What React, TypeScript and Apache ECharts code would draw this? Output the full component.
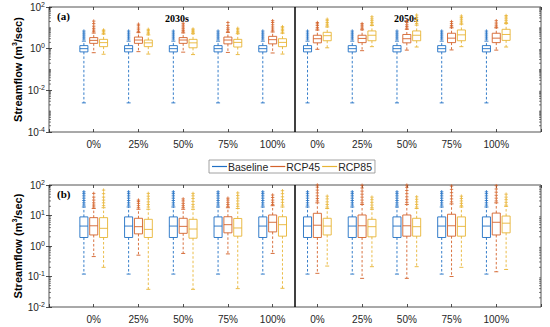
import React, { useEffect, useRef } from 'react';
import * as echarts from 'echarts';

const groupLabels = ['0%', '25%', '50%', '75%', '100%', '0%', '25%', '50%', '75%', '100%'];
const seriesNames = ['Baseline', 'RCP45', 'RCP85'];
const seriesColors = ['#1f6fc4', '#d4622a', '#e8b434'];

// each row: [lower whisker, Q1, median, Q3, upper whisker]
// ---- panel (a) ----
const baselineA = [
  [0.0025, 0.7, 1.0, 1.4, 2.3], [0.0025, 0.7, 1.0, 1.4, 2.3], [0.0025, 0.7, 1.0, 1.4, 2.3],
  [0.0025, 0.7, 1.0, 1.4, 2.3], [0.0025, 0.7, 1.0, 1.4, 2.3], [0.0025, 0.7, 1.0, 1.4, 2.3],
  [0.0025, 0.7, 1.0, 1.4, 2.3], [0.0025, 0.7, 1.0, 1.4, 2.3], [0.0025, 0.7, 1.0, 1.4, 2.3],
  [0.0025, 0.7, 1.0, 1.4, 2.3],
];
const baselineAOut = [
  [2.9, 3.6, 4.5, 5.6, 7.0], [2.9, 3.6, 4.5, 5.6, 7.0], [2.9, 3.6, 4.5, 5.6, 7.0],
  [2.9, 3.6, 4.5, 5.6, 7.0], [2.9, 3.6, 4.5, 5.6, 7.0], [2.9, 3.6, 4.5, 5.6, 7.0],
  [2.9, 3.6, 4.5, 5.6, 7.0], [2.9, 3.6, 4.5, 5.6, 7.0], [2.9, 3.6, 4.5, 5.6, 7.0],
  [2.9, 3.6, 4.5, 5.6, 7.0],
];
const rcp45A = [
  [0.64, 1.8, 2.5, 3.4, 5.6], [0.72, 1.8, 2.6, 3.6, 5.9], [0.68, 1.8, 2.6, 3.4, 5.7],
  [0.66, 1.7, 2.6, 3.6, 6.0], [0.62, 1.7, 2.7, 3.9, 6.3],
  [0.93, 1.9, 3.0, 4.4, 7.8], [0.8, 1.95, 3.1, 4.4, 8.0], [0.85, 1.9, 3.0, 4.8, 8.5],
  [0.87, 1.95, 3.2, 5.5, 10], [0.85, 1.95, 3.2, 5.5, 10],
];
const rcp45AOut = [
  [6.5, 7.8, 9.5, 12, 16, 21], [6.6, 8, 9.8, 12.5, 15], [6.4, 7.6, 9, 11, 13.5, 16.5],
  [6.8, 8.2, 10, 13, 18], [7.2, 8.8, 11, 14, 18, 22],
  [8.8, 10.5, 13, 15.5, 18], [9, 11, 13.5, 16], [9.6, 11.5, 14, 18, 22],
  [11, 13, 16, 20], [11, 13.5, 17, 22],
];
const rcp85A = [
  [0.54, 1.25, 1.95, 2.8, 5.0], [0.55, 1.25, 1.9, 2.6, 4.6], [0.52, 1.1, 1.9, 2.8, 5.2],
  [0.52, 1.2, 2.0, 2.8, 5.2], [0.55, 1.25, 2.0, 3.0, 5.5],
  [1.1, 2.4, 4.2, 6.1, 11], [1.25, 2.4, 4.4, 7.1, 13], [1.2, 2.4, 4.4, 7.1, 13.5],
  [1.25, 2.4, 4.6, 7.9, 15], [1.2, 2.5, 4.8, 8.5, 16],
];
const rcp85AOut = [
  [5.5, 6.4, 7.2, 7.9], [5.2, 6.2, 7.3, 8.5], [5.8, 6.8, 7.8, 8.8],
  [5.8, 6.8, 8, 9.5], [6.2, 7.3, 8.5, 10, 11.4],
  [12.5, 15, 18, 22, 26], [15, 18, 22, 27, 34], [16, 20, 25, 32, 41],
  [17, 21, 26, 31, 37], [18, 22, 27, 33, 39],
];

// ---- panel (b) ----
const baselineB = [
  [0.12, 1.9, 4.5, 9.0, 19], [0.12, 1.9, 4.5, 9.0, 19], [0.12, 1.9, 4.5, 9.0, 19],
  [0.12, 1.9, 4.5, 9.0, 19], [0.12, 1.9, 4.5, 9.0, 19], [0.12, 1.9, 4.5, 9.0, 19],
  [0.12, 1.9, 4.5, 9.0, 19], [0.12, 1.9, 4.5, 9.0, 19], [0.12, 1.9, 4.5, 9.0, 19],
  [0.12, 1.9, 4.5, 9.0, 19],
];
const baselineBOut = [
  [22, 26, 31, 37, 44, 52, 60], [22, 26, 31, 37, 44, 52, 60], [22, 26, 31, 37, 44, 52, 60],
  [22, 26, 31, 37, 44, 52, 60], [22, 26, 31, 37, 44, 52, 60], [22, 26, 31, 37, 44, 52, 60],
  [22, 26, 31, 37, 44, 52, 60], [22, 26, 31, 37, 44, 52, 60], [22, 26, 31, 37, 44, 52, 60],
  [22, 26, 31, 37, 44, 52, 60],
];
const rcp45B = [
  [0.45, 2.3, 4.6, 8.5, 17], [0.5, 2.5, 4.3, 8.1, 16], [0.57, 2.6, 4.4, 8.1, 16],
  [0.55, 2.7, 5.0, 9.1, 18], [0.57, 2.9, 6.0, 10.4, 21],
  [0.127, 1.9, 4.8, 11.8, 26], [0.087, 1.9, 4.6, 10.4, 23], [0.087, 2.1, 4.6, 10.4, 23],
  [0.1, 2.1, 4.6, 11, 24], [0.143, 2.3, 6.0, 12, 26],
];
const rcp45BOut = [
  [19, 22, 26, 32, 40, 53], [18, 21, 25, 29, 32], [18, 21, 25, 30, 35],
  [20, 23, 27, 32, 37], [23, 27, 32, 39, 47],
  [30, 36, 44, 55, 68, 85, 100], [26, 32, 40, 50, 63, 80, 98], [27, 33, 41, 52, 66, 84, 99],
  [28, 35, 44, 56, 72, 92], [30, 37, 46, 58, 74, 95],
];
const rcp85B = [
  [0.2, 1.9, 3.8, 8.5, 18], [0.038, 1.9, 3.5, 7.5, 16], [0.038, 1.8, 3.6, 7.5, 16],
  [0.04, 2.1, 3.9, 8.0, 17], [0.041, 2.1, 5.0, 9.1, 19],
  [0.22, 2.3, 4.5, 8.1, 17], [0.21, 2.0, 4.3, 7.5, 16], [0.21, 2.1, 4.3, 8.1, 17],
  [0.2, 2.1, 4.4, 9.0, 19], [0.17, 2.7, 5.6, 9.6, 20],
];
const rcp85BOut = [
  [21, 26, 32, 40, 52, 68], [19, 23, 28, 35, 43, 53], [19, 23, 29, 36, 44, 53],
  [20, 24, 30, 37, 45, 55], [22, 27, 33, 41, 52, 65],
  [19, 23, 28, 35, 43], [18, 22, 27, 33, 40], [19, 23, 28, 34, 41],
  [21, 25, 30, 36, 43], [22, 27, 33, 40, 50],
];

const dividerPos = [5.5];
const panelYRange = [
  { min: 1e-4, max: 1e2, interval: 2, minExp: -4, maxExp: 2 },
  { min: 1e-2, max: 1e2, interval: 1, minExp: -2, maxExp: 2 },
];

const OFFSETS = [-0.22, 0, 0.22];
const BOX_W = 0.18;
const TXT = '#262626';
const FONT = 'Liberation Sans, Arial, sans-serif';

const makeBoxRender = (offset: number, color: string) => (params: any, api: any) => {
  const x = api.value(0) + offset;
  const lo = api.coord([x, api.value(1)]);
  const q1 = api.coord([x, api.value(2)]);
  const med = api.coord([x, api.value(3)]);
  const q3 = api.coord([x, api.value(4)]);
  const hi = api.coord([x, api.value(5)]);
  const left = api.coord([x - BOX_W / 2, 1])[0];
  const right = api.coord([x + BOX_W / 2, 1])[0];
  const capL = api.coord([x - BOX_W / 4, 1])[0];
  const capR = api.coord([x + BOX_W / 4, 1])[0];
  const cx = lo[0];
  const solid = { stroke: color, lineWidth: 0.9 };
  const dashed = { stroke: color, lineWidth: 0.9, lineDash: [2.5, 2] };
  return {
    type: 'group',
    children: [
      { type: 'line', shape: { x1: cx, y1: q3[1], x2: cx, y2: hi[1] }, style: dashed },
      { type: 'line', shape: { x1: cx, y1: q1[1], x2: cx, y2: lo[1] }, style: dashed },
      { type: 'line', shape: { x1: capL, y1: hi[1], x2: capR, y2: hi[1] }, style: solid },
      { type: 'line', shape: { x1: capL, y1: lo[1], x2: capR, y2: lo[1] }, style: solid },
      {
        type: 'rect',
        shape: { x: left, y: q3[1], width: right - left, height: q1[1] - q3[1] },
        style: { stroke: color, fill: 'none', lineWidth: 0.9 },
      },
      { type: 'line', shape: { x1: left, y1: med[1], x2: right, y2: med[1] }, style: solid },
    ],
  };
};

const makeOutlierRender = (offset: number, color: string) => (params: any, api: any) => {
  const p = api.coord([api.value(0) + offset, api.value(1)]);
  const r = 1.7;
  const st = { stroke: color, lineWidth: 0.8 };
  return {
    type: 'group',
    children: [
      { type: 'line', shape: { x1: p[0] - r, y1: p[1], x2: p[0] + r, y2: p[1] }, style: st },
      { type: 'line', shape: { x1: p[0], y1: p[1] - r, x2: p[0], y2: p[1] + r }, style: st },
    ],
  };
};

const dividerRender = (params: any, api: any) => {
  const cs = params.coordSys;
  const x = api.coord([api.value(0), 1])[0];
  return {
    type: 'line',
    shape: { x1: x, y1: cs.y, x2: x, y2: cs.y + cs.height },
    style: { stroke: '#000', lineWidth: 1.5 },
  };
};

const minorTickRender = (params: any, api: any) => {
  const cs = params.coordSys;
  const y = api.coord([1, api.value(0)])[1];
  const st = { stroke: TXT, lineWidth: 0.6 };
  return {
    type: 'group',
    children: [
      { type: 'line', shape: { x1: cs.x, y1: y, x2: cs.x + 2, y2: y }, style: st },
      { type: 'line', shape: { x1: cs.x + cs.width - 2, y1: y, x2: cs.x + cs.width, y2: y }, style: st },
    ],
  };
};

const toBoxData = (rows: number[][]) => rows.map((r, i) => [i + 1, ...r]);
const toOutData = (lists: number[][]) => {
  const out: number[][] = [];
  lists.forEach((l, i) => l.forEach((v) => out.push([i + 1, v])));
  return out;
};

const minorTickValues = (minExp: number, maxExp: number, interval: number) => {
  const vals: number[][] = [];
  for (let e = minExp; e < maxExp; e++) {
    for (let d = 1; d <= 9; d++) {
      if (d === 1 && (e - minExp) % interval === 0) continue;
      vals.push([d * Math.pow(10, e)]);
    }
  }
  return vals;
};

export default function App() {
  const ref = useRef<HTMLDivElement>(null);
  useEffect(() => {
    document.body.style.margin = '0';
    if (!ref.current) return;
    const chart = echarts.init(ref.current, null, { renderer: 'svg' });

    const panels = [
      { boxes: [baselineA, rcp45A, rcp85A], outs: [baselineAOut, rcp45AOut, rcp85AOut] },
      { boxes: [baselineB, rcp45B, rcp85B], outs: [baselineBOut, rcp45BOut, rcp85BOut] },
    ];

    const series: any[] = [];
    panels.forEach((panel, p) => {
      const xi = p * 2;
      const yi = p * 2;
      series.push({
        type: 'custom',
        name: 'divider',
        xAxisIndex: xi,
        yAxisIndex: yi,
        renderItem: dividerRender,
        data: dividerPos.map((v) => [v]),
        encode: { x: 0 },
        silent: true,
        z: 5,
      });
      series.push({
        type: 'custom',
        name: 'minor',
        xAxisIndex: xi,
        yAxisIndex: yi,
        renderItem: minorTickRender,
        data: minorTickValues(panelYRange[p].minExp, panelYRange[p].maxExp, panelYRange[p].interval),
        encode: { y: 0 },
        silent: true,
      });
      seriesNames.forEach((name, s) => {
        series.push({
          type: 'custom',
          name,
          xAxisIndex: xi,
          yAxisIndex: yi,
          renderItem: makeBoxRender(OFFSETS[s], seriesColors[s]),
          data: toBoxData(panel.boxes[s]),
          encode: { x: 0, y: [1, 2, 3, 4, 5] },
          itemStyle: { color: seriesColors[s] },
          z: 3,
        });
        series.push({
          type: 'custom',
          name,
          xAxisIndex: xi,
          yAxisIndex: yi,
          renderItem: makeOutlierRender(OFFSETS[s], seriesColors[s]),
          data: toOutData(panel.outs[s]),
          encode: { x: 0, y: 1 },
          itemStyle: { color: seriesColors[s] },
          z: 3,
        });
      });
    });

    const xAxisBase = (gridIndex: number, position: string, showLabel: boolean) => ({
      type: 'value',
      gridIndex,
      position,
      min: 0,
      max: 11,
      interval: 1,
      axisLine: { show: false },
      axisTick: { show: true, inside: true, length: 3, lineStyle: { color: TXT, width: 0.8 } },
      splitLine: { show: false },
      axisLabel: {
        show: showLabel,
        margin: 7,
        fontSize: 10,
        color: TXT,
        fontFamily: FONT,
        formatter: (v: number) => groupLabels[v - 1] ?? '',
      },
    });

    const yAxisBase = (gridIndex: number, p: number, position: string, main: boolean) => ({
      type: 'log',
      gridIndex,
      position,
      min: panelYRange[p].min,
      max: panelYRange[p].max,
      interval: panelYRange[p].interval,
      axisLine: { show: false },
      axisTick: { show: true, inside: true, length: 3, lineStyle: { color: TXT, width: 0.8 } },
      splitLine: { show: false },
      name: main ? 'Streamflow (m{sup|3}/sec)' : '',
      nameLocation: 'middle',
      nameGap: 25,
      nameMoveOverlap: false,
      nameTextStyle: {
        fontSize: 11,
        fontWeight: 'bold',
        color: '#000',
        fontFamily: FONT,
        rich: { sup: { fontSize: 7, fontWeight: 'bold', verticalAlign: 'top', padding: [0, 0, 6, 0], fontFamily: FONT } },
      },
      axisLabel: {
        show: main,
        margin: 4,
        fontSize: 10,
        color: TXT,
        fontFamily: FONT,
        formatter: (v: number) => `10{sup|${Math.round(Math.log10(v))}}`,
        rich: { sup: { fontSize: 7, color: TXT, padding: [0, 0, 6, 0], fontFamily: FONT } },
      },
    });

    chart.setOption({
      animation: false,
      backgroundColor: '#fff',
      grid: [
        { left: 49, top: 7, right: 9, height: 125, show: true, borderColor: TXT, borderWidth: 0.8, backgroundColor: '#fff' },
        { left: 49, top: 185, right: 9, height: 122, show: true, borderColor: TXT, borderWidth: 0.8, backgroundColor: '#fff' },
      ],
      xAxis: [
        xAxisBase(0, 'bottom', true),
        xAxisBase(0, 'top', false),
        xAxisBase(1, 'bottom', true),
        xAxisBase(1, 'top', false),
      ],
      yAxis: [
        yAxisBase(0, 0, 'left', true),
        yAxisBase(0, 0, 'right', false),
        yAxisBase(1, 1, 'left', true),
        yAxisBase(1, 1, 'right', false),
      ],
      legend: {
        data: seriesNames,
        left: 209,
        top: 160,
        icon: 'rect',
        itemWidth: 15,
        itemHeight: 1.2,
        itemGap: 2,
        padding: [1, 3, 1, 3],
        backgroundColor: '#fff',
        borderColor: '#8c8c8c',
        borderWidth: 0.8,
        borderRadius: 0,
        selectedMode: false,
        textStyle: { fontSize: 10.5, color: TXT, fontFamily: FONT, padding: [0, 0, 0, -4] },
      },
      graphic: [
        { type: 'text', left: 57, top: 10, style: { text: '(a)', font: 'bold 11px "Liberation Serif", "Times New Roman", serif', fill: '#000' } },
        { type: 'text', left: 165, top: 13, style: { text: '2030s', font: 'bold 10px "Liberation Serif", "Times New Roman", serif', fill: '#000' } },
        { type: 'text', left: 394, top: 13, style: { text: '2050s', font: 'bold 10px "Liberation Serif", "Times New Roman", serif', fill: '#000' } },
        { type: 'text', left: 57, top: 188, style: { text: '(b)', font: 'bold 11px "Liberation Serif", "Times New Roman", serif', fill: '#000' } },
      ],
      series,
    });
    return () => chart.dispose();
  }, []);
  return <div ref={ref} style={{ position: 'absolute', left: 0, top: 0, width: 550, height: 327 }} />;
}
